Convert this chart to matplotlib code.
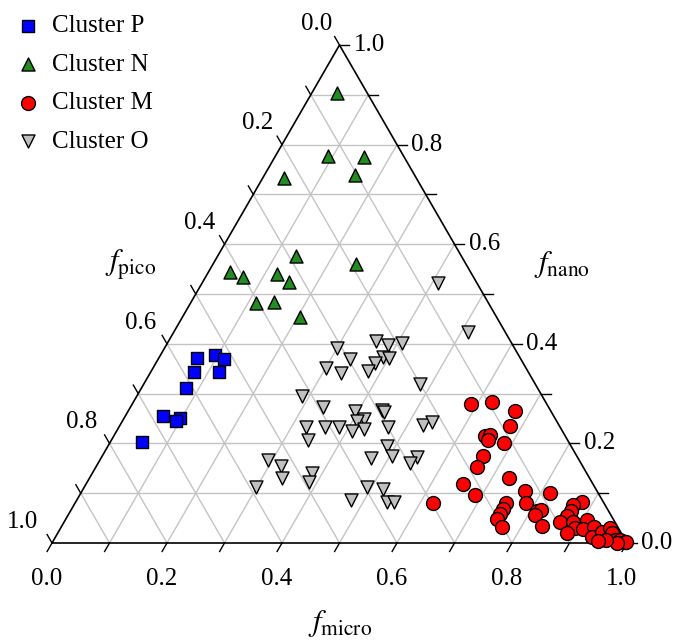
import matplotlib
matplotlib.use("Agg")
import matplotlib.pyplot as plt
import numpy as np

plt.rcParams['font.family'] = ['Liberation Serif', 'DejaVu Serif']
plt.rcParams['mathtext.fontset'] = 'stix'

# Fracciones (micro, nano); pico = 1 - micro - nano
p_micro = [0.066, 0.094, 0.115, 0.076, 0.119, 0.077, 0.065, 0.096, 0.094, 0.055]
p_nano = [0.372, 0.378, 0.369, 0.343, 0.343, 0.312, 0.255, 0.252, 0.244, 0.203]

n_micro = [0.045, 0.091, 0.155, 0.157, 0.037, 0.136, 0.249, 0.037, 0.065, 0.121,
           0.150, 0.114, 0.145, 0.205]
n_nano = [0.903, 0.777, 0.775, 0.740, 0.732, 0.577, 0.560, 0.545, 0.534, 0.540,
          0.524, 0.481, 0.483, 0.454]

m_micro = [0.590, 0.623, 0.673, 0.679, 0.646, 0.653, 0.654, 0.685, 0.662, 0.662,
           0.730, 0.656, 0.688, 0.623, 0.770, 0.816, 0.784, 0.750, 0.751, 0.750,
           0.750, 0.766, 0.811, 0.817, 0.812, 0.835, 0.880, 0.868, 0.870, 0.868,
           0.862, 0.908, 0.885, 0.895, 0.885, 0.910, 0.926, 0.932, 0.950, 0.945,
           0.956, 0.964, 0.975, 0.984, 0.995, 0.998, 0.982, 0.960, 0.947]
m_nano = [0.279, 0.284, 0.265, 0.234, 0.214, 0.217, 0.207, 0.201, 0.175, 0.153,
          0.130, 0.119, 0.096, 0.080, 0.104, 0.100, 0.080, 0.080, 0.068, 0.058,
          0.048, 0.032, 0.065, 0.066, 0.056, 0.034, 0.083, 0.076, 0.065, 0.054,
          0.043, 0.046, 0.043, 0.030, 0.020, 0.028, 0.032, 0.013, 0.013, 0.023,
          0.030, 0.020, 0.007, 0.007, 0.003, 0.002, 0.000, 0.006, 0.005]

o_micro = [0.411, 0.512, 0.300, 0.360, 0.385, 0.407, 0.334, 0.388, 0.400, 0.381,
           0.301, 0.332, 0.377, 0.480, 0.287, 0.334, 0.394, 0.418, 0.407, 0.440,
           0.446, 0.326, 0.359, 0.383, 0.410, 0.429, 0.467, 0.526, 0.539, 0.342,
           0.485, 0.503, 0.470, 0.548, 0.543, 0.293, 0.321, 0.335, 0.382, 0.386,
           0.298, 0.491, 0.521, 0.477, 0.541, 0.553]
o_nano = [0.522, 0.424, 0.391, 0.406, 0.397, 0.402, 0.369, 0.374, 0.371, 0.362,
          0.351, 0.341, 0.345, 0.319, 0.296, 0.274, 0.266, 0.250, 0.246, 0.267,
          0.263, 0.232, 0.232, 0.232, 0.224, 0.228, 0.233, 0.237, 0.243, 0.207,
          0.195, 0.175, 0.171, 0.172, 0.160, 0.167, 0.154, 0.130, 0.140, 0.122,
          0.113, 0.112, 0.109, 0.086, 0.082, 0.082]

ticks = np.arange(0, 1.01, 0.1)
tick_labels = ['0.0', '0.2', '0.4', '0.6', '0.8', '1.0']

H = np.sqrt(3) / 2


def to_xy(micro, nano):
    micro = np.asarray(micro)
    nano = np.asarray(nano)
    return micro + nano / 2, nano * H


fig = plt.figure(figsize=(6.87, 6.42), dpi=100)
ax = fig.add_axes([0, 0, 1, 1])
ax.set_xlim(-52 / 575, 635 / 575)
ax.set_ylim(-99 / 575, 543 / 575)
ax.axis('off')

# Rejilla
for t in ticks[1:-1]:
    # nano constante (horizontal)
    ax.plot(*to_xy([0, 1 - t], [t, t]), color='#c4c4c4', lw=1.0, zorder=1)
    # micro constante
    ax.plot(*to_xy([t, t], [0, 1 - t]), color='#c4c4c4', lw=1.0, zorder=1)
    # pico constante
    ax.plot(*to_xy([1 - t, 0], [0, 1 - t]), color='#c4c4c4', lw=1.0, zorder=1)

# Bordes
ax.plot(*to_xy([0, 1, 0, 0], [0, 0, 1, 0]), color='black', lw=1.2, zorder=2)

tl = 0.017
for i, t in enumerate(ticks):
    # eje micro (abajo)
    x0, y0 = to_xy(t, 0)
    ax.plot([x0, x0 - 0.5 * tl], [y0, y0 - H * tl], color='black', lw=1.0)
    # eje nano (derecha)
    x1, y1 = to_xy(1 - t, t)
    ax.plot([x1, x1 + tl], [y1, y1], color='black', lw=1.0)
    # eje pico (izquierda)
    x2, y2 = to_xy(0, 1 - t)
    ax.plot([x2, x2 - 0.5 * tl], [y2, y2 + H * tl], color='black', lw=1.0)
    if i % 2 == 0:
        lab = tick_labels[i // 2]
        ax.text(x0 - 0.01, y0 - 0.062, lab, ha='center', va='center', fontsize=18)
        ax.text(x1 + 0.025, y1, lab, ha='left', va='center', fontsize=18)
        ax.text(x2 - 0.012 - 0.012 * t, y2 + 0.037, lab, ha='right', va='center',
                fontsize=18)

ax.text(0.136, 0.484, r'$f_{\mathrm{pico}}$', ha='center', va='center', fontsize=22)
ax.text(0.887, 0.484, r'$f_{\mathrm{nano}}$', ha='center', va='center', fontsize=22)
ax.text(0.501, -0.14, r'$f_{\mathrm{micro}}$', ha='center', va='center', fontsize=22)

ax.scatter(*to_xy(p_micro, p_nano), marker='s', s=74, c='#0000ff',
           edgecolors='black', linewidths=1.0, zorder=3, label='Cluster P')
ax.scatter(*to_xy(n_micro, n_nano), marker='^', s=88, c='#228b22',
           edgecolors='black', linewidths=1.0, zorder=3, label='Cluster N')
ax.scatter(*to_xy(m_micro, m_nano), marker='o', s=100, c='#ff0000',
           edgecolors='black', linewidths=1.0, zorder=3, label='Cluster M')
ax.scatter(*to_xy(o_micro, o_nano), marker='v', s=88, c='#c0c0c0',
           edgecolors='black', linewidths=1.0, zorder=3, label='Cluster O')

ax.legend(loc='upper left', bbox_to_anchor=(0.023, 0.977), frameon=False,
          fontsize=18, handlelength=1.0, handletextpad=0.45, labelspacing=0.64,
          borderaxespad=0, borderpad=0, scatterpoints=1)

plt.savefig('out.png', dpi=100)
